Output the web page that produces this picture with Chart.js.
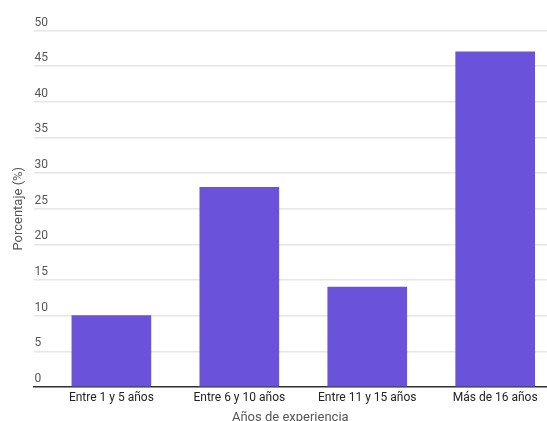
<!DOCTYPE html>
<html>
<head>
<meta charset="utf-8">
<script src="https://cdn.jsdelivr.net/npm/chart.js@4"></script>
<style>
  html, body { margin: 0; padding: 0; background: #fff; overflow: hidden; }
  #wrap { position: relative; width: 547px; height: 434px; }
</style>
</head>
<body>
<div id="wrap"><canvas id="chart"></canvas></div>
<script>
// Experience groups and share of respondents (%)
const categories = ['Entre 1 y 5 años', 'Entre 6 y 10 años', 'Entre 11 y 15 años', 'Más de 16 años'];
const percentages = [10, 28, 14, 47];
const yTicks = [0, 5, 10, 15, 20, 25, 30, 35, 40, 45, 50];

const points = categories.map((c, i) => ({ x: i, y: percentages[i] }));

new Chart(document.getElementById('chart'), {
  type: 'bar',
  data: {
    datasets: [{
      data: points,
      backgroundColor: '#6b52da',
      borderWidth: 0,
      barThickness: 79
    }]
  },
  options: {
    responsive: true,
    maintainAspectRatio: false,
    animation: false,
    layout: { padding: { top: 30.5, right: 0, bottom: 0, left: 0 } },
    plugins: { legend: { display: false }, tooltip: { enabled: false } },
    scales: {
      x: {
        type: 'linear',
        offset: false,
        bounds: 'data',
        min: -0.608,
        max: 3.405,
        afterBuildTicks: (axis) => { axis.ticks = categories.map((c, i) => ({ value: i })); },
        grid: { display: false, drawTicks: false, offset: false },
        border: { display: true, color: '#333333', width: 1.5 },
        ticks: {
          callback: (v) => categories[v] ?? '',
          color: '#222222',
          font: { family: 'Roboto', size: 12 },
          padding: 4,
          maxRotation: 0,
          autoSkip: false
        },
        title: {
          display: true,
          text: 'Años de experiencia',
          color: '#555555',
          font: { family: 'Roboto', size: 13 },
          padding: { top: 1, bottom: 8 }
        }
      },
      y: {
        min: 0,
        max: 50,
        afterBuildTicks: (axis) => { axis.ticks = yTicks.map(v => ({ value: v })); },
        grid: { color: '#e6e6e6', lineWidth: 1.5, drawTicks: false },
        border: { display: false },
        ticks: {
          mirror: true,
          padding: 1,
          labelOffset: -8,
          color: '#555555',
          font: { family: 'Roboto', size: 12 }
        },
        title: {
          display: true,
          text: 'Porcentaje (%)',
          color: '#555555',
          font: { family: 'Roboto', size: 13 },
          padding: { top: 11, bottom: 5 }
        }
      }
    }
  }
});
</script>
</body>
</html>
